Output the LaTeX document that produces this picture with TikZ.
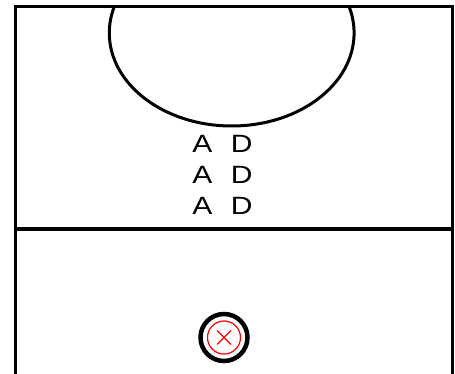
\documentclass[tikz,border=0pt]{standalone}
\usepackage{fontspec}
\setmainfont{Liberation Sans}
\usetikzlibrary{calc}
\tikzset{
  court/.style={line width=3pt, line cap=rect},
  player/.style={font=\fontsize{25}{25}\selectfont, inner sep=0pt},
  ringo/.style={draw=black, line width=4.5pt},
  ringr/.style={draw=red, line width=1.2pt},
}
\newcommand{\wideletter}[1]{\scalebox{1.2}[1]{#1}}
\begin{document}
\begin{tikzpicture}[x=1pt,y=-1pt]
\useasboundingbox (0,0) rectangle (455,374);
\fill[white] (0,0) rectangle (455,374);
% court
\coordinate (tl) at (15,6.5);
\coordinate (tr) at (452,6.5);
\coordinate (bl) at (15,380);
\coordinate (br) at (452,380);
\coordinate (ml) at (15,229);
\coordinate (mr) at (452,229);
\begin{scope}
\clip (0,6.5) rectangle (455,374);
\draw[line width=3pt] (231.7,33) ellipse [x radius=122.4, y radius=93];
\end{scope}
\draw[court] (bl) -- (tl) -- (tr) -- (br);
\draw[court] (ml) -- (mr);
% players
\foreach \i/\y in {1/144,2/175,3/205.5}{
  \node[player] (a\i) at (202.5,\y) {\wideletter{A}};
  \node[player] (d\i) at (241.7,\y) {\wideletter{D}};
}
% ball / cone
\node[circle, ringo, minimum size=47pt, inner sep=0pt] (ring) at (224,337.5) {};
\node[circle, ringr, minimum size=33pt, inner sep=0pt] (red) at (ring.center) {};
\draw[red, line width=1.3pt] ($(red.center)+(-7,-7)$) -- ($(red.center)+(7,7)$);
\draw[red, line width=1.3pt] ($(red.center)+(-7,7)$) -- ($(red.center)+(7,-7)$);
\end{tikzpicture}
\end{document}
